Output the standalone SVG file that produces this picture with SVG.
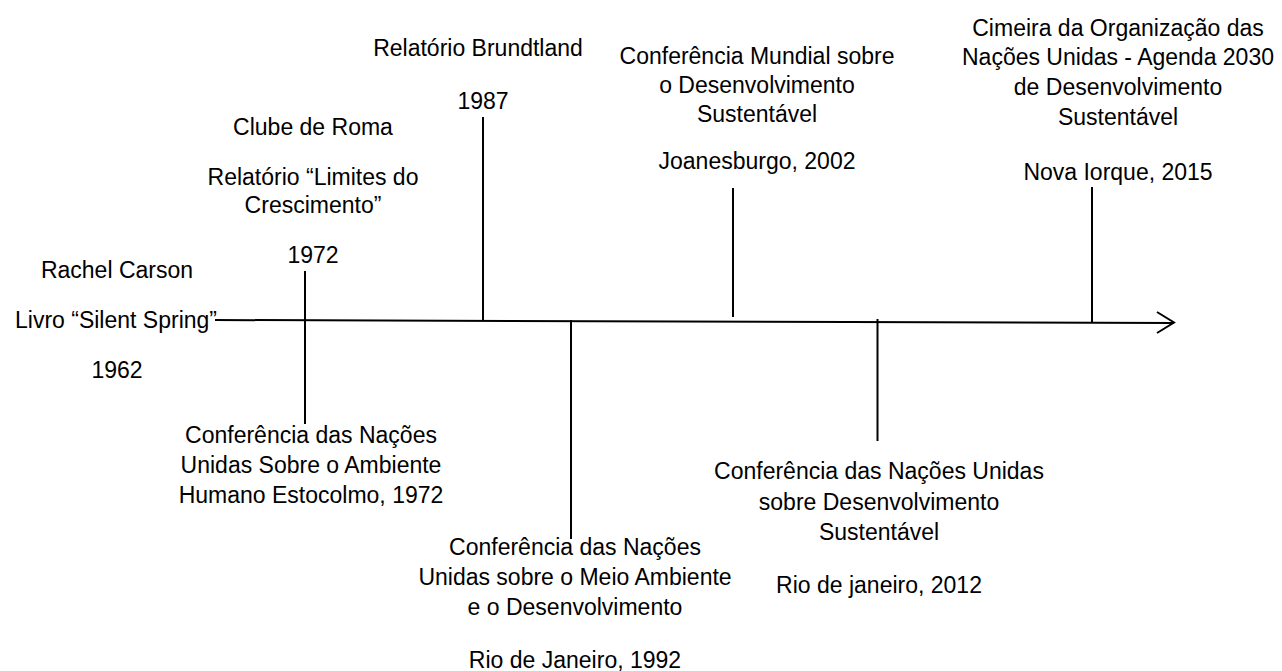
<svg xmlns="http://www.w3.org/2000/svg" width="1282" height="671" viewBox="0 0 1282 671">
<style>
text{font-family:"Liberation Sans",Arial,sans-serif;font-size:23px;fill:#000;text-anchor:middle}
.ln{stroke:#000;stroke-width:2;fill:none}
</style>
<rect width="1282" height="671" fill="#fff"/>
<g id="connectors">
<line class="ln" x1="215" y1="320" x2="1174" y2="323"/>
<polyline class="ln" points="1157,312 1174,322.5 1157,333"/>
<line class="ln" x1="305" y1="271" x2="305" y2="424"/>
<line class="ln" x1="483" y1="117" x2="483" y2="321"/>
<line class="ln" x1="571" y1="320" x2="571" y2="539"/>
<line class="ln" x1="733" y1="188" x2="733" y2="317"/>
<line class="ln" x1="877.5" y1="319" x2="877.5" y2="441"/>
<line class="ln" x1="1092" y1="187" x2="1092" y2="322"/>
</g>
<g id="n1962">
<text x="117" y="278">Rachel Carson</text>
<text x="116" y="328">Livro “Silent Spring”</text>
<text x="117" y="378">1962</text>
</g>
<g id="n1972a">
<text x="313" y="135">Clube de Roma</text>
<text x="313" y="185">Relatório “Limites do</text>
<text x="313" y="213">Crescimento”</text>
<text x="313" y="263">1972</text>
</g>
<g id="n1987">
<text x="478" y="56">Relatório Brundtland</text>
<text x="483" y="109">1987</text>
</g>
<g id="n2002">
<text x="757" y="64">Conferência Mundial sobre</text>
<text x="757" y="93">o Desenvolvimento</text>
<text x="757" y="122">Sustentável</text>
<text x="757" y="169">Joanesburgo, 2002</text>
</g>
<g id="n2015">
<text x="1118" y="36">Cimeira da Organização das</text>
<text x="1118" y="65">Nações Unidas - Agenda 2030</text>
<text x="1118" y="95">de Desenvolvimento</text>
<text x="1118" y="125">Sustentável</text>
<text x="1118" y="180">Nova Iorque, 2015</text>
</g>
<g id="n1972b">
<text x="311" y="443">Conferência das Nações</text>
<text x="311" y="473">Unidas Sobre o Ambiente</text>
<text x="311" y="503">Humano Estocolmo, 1972</text>
</g>
<g id="n1992">
<text x="575" y="555">Conferência das Nações</text>
<text x="575" y="585">Unidas sobre o Meio Ambiente</text>
<text x="575" y="615">e o Desenvolvimento</text>
<text x="575" y="668">Rio de Janeiro, 1992</text>
</g>
<g id="n2012">
<text x="879" y="479">Conferência das Nações Unidas</text>
<text x="879" y="510">sobre Desenvolvimento</text>
<text x="879" y="540">Sustentável</text>
<text x="879" y="593">Rio de janeiro, 2012</text>
</g>
</svg>
